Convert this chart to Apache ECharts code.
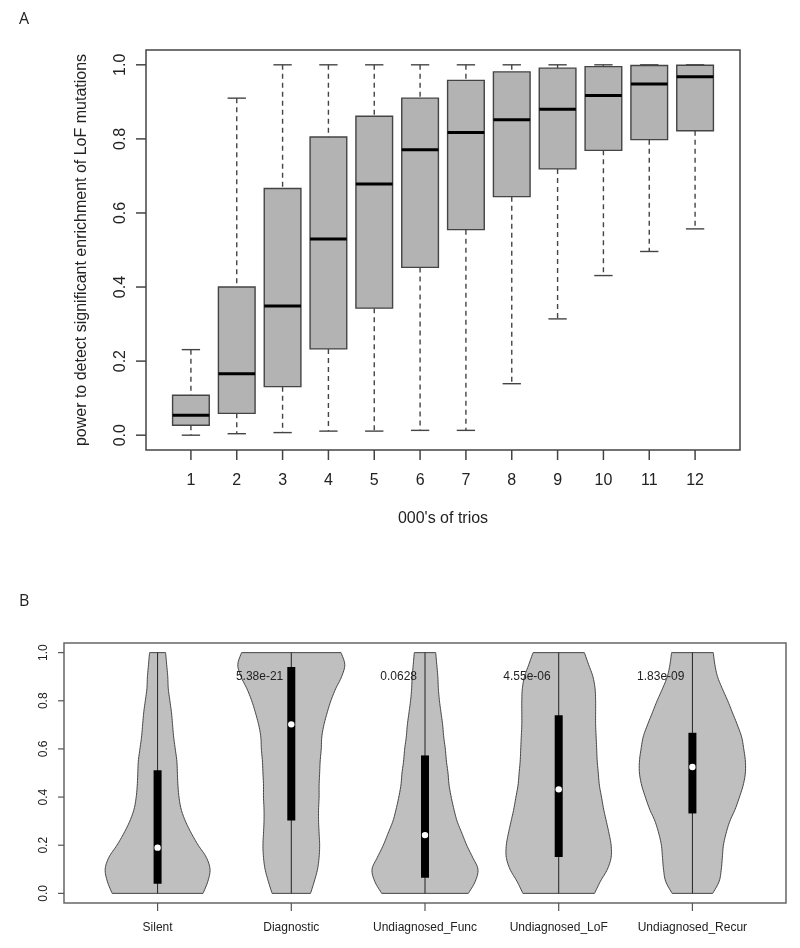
<!DOCTYPE html>
<html><head><meta charset="utf-8">
<script src="https://cdn.jsdelivr.net/npm/echarts@6/dist/echarts.min.js"></script>
<style>html,body{margin:0;padding:0;background:#fff}#c{width:800px;height:948px}</style>
</head><body><div id="c"></div>
<script>
// ---------- Panel A: boxplots ----------
const trioCategories = [1, 2, 3, 4, 5, 6, 7, 8, 9, 10, 11, 12];
const boxLow    = [0.000, 0.004, 0.007, 0.011, 0.011, 0.013, 0.013, 0.139, 0.314, 0.431, 0.496, 0.557];
const boxQ1     = [0.027, 0.059, 0.131, 0.233, 0.343, 0.453, 0.555, 0.644, 0.719, 0.769, 0.798, 0.822];
const boxMedian = [0.054, 0.166, 0.349, 0.530, 0.678, 0.771, 0.817, 0.852, 0.880, 0.917, 0.948, 0.968];
const boxQ3     = [0.108, 0.400, 0.666, 0.805, 0.861, 0.910, 0.958, 0.981, 0.991, 0.995, 0.998, 0.999];
const boxHigh   = [0.231, 0.910, 1.000, 1.000, 1.000, 1.000, 1.000, 1.000, 1.000, 1.000, 1.000, 1.000];
const yTicks = [0, 0.2, 0.4, 0.6, 0.8, 1.0];

// ---------- Panel B: violins ----------
const violinCategories = ['Silent', 'Diagnostic', 'Undiagnosed_Func', 'Undiagnosed_LoF', 'Undiagnosed_Recur'];
const violinPositions = [1, 2, 3, 4, 5];
const densityLevels = [0, 0.05, 0.1, 0.15, 0.2, 0.25, 0.3, 0.35, 0.4, 0.45, 0.5, 0.55, 0.6, 0.65, 0.7, 0.75, 0.8, 0.85, 0.9, 0.95, 1.0];
const densitySilent     = [0.85, 0.94, 0.98, 0.91, 0.76, 0.63, 0.52, 0.44, 0.40, 0.38, 0.37, 0.36, 0.33, 0.30, 0.28, 0.26, 0.23, 0.20, 0.19, 0.17, 0.15];
const densityDiagnostic = [0.36, 0.43, 0.49, 0.52, 0.53, 0.52, 0.51, 0.51, 0.52, 0.52, 0.53, 0.54, 0.56, 0.57, 0.61, 0.67, 0.74, 0.83, 0.94, 1.00, 0.93];
const densityFunc       = [0.81, 0.94, 0.99, 0.89, 0.78, 0.69, 0.60, 0.54, 0.49, 0.45, 0.43, 0.40, 0.38, 0.35, 0.33, 0.30, 0.27, 0.25, 0.24, 0.22, 0.20];
const densityLoF        = [0.67, 0.78, 0.91, 0.98, 0.98, 0.94, 0.89, 0.84, 0.80, 0.76, 0.74, 0.72, 0.71, 0.70, 0.69, 0.69, 0.69, 0.68, 0.64, 0.56, 0.48];
const densityRecur      = [0.38, 0.50, 0.54, 0.56, 0.58, 0.63, 0.70, 0.80, 0.88, 0.95, 0.99, 0.99, 0.96, 0.92, 0.84, 0.75, 0.66, 0.56, 0.47, 0.42, 0.39];
const violinMin    = [0, 0, 0, 0, 0];
const violinMax    = [1, 1, 1, 1, 1];
const violinQ1     = [0.040, 0.303, 0.065, 0.151, 0.332];
const violinMedian = [0.190, 0.702, 0.242, 0.432, 0.525];
const violinQ3     = [0.511, 0.940, 0.573, 0.740, 0.667];
const pValueLabels = ['', '5.38e-21', '0.0628', '4.55e-06', '1.83e-09'];
const pValueY = 0.9;

const densities = [densitySilent, densityDiagnostic, densityFunc, densityLoF, densityRecur];

const FONT = '"Liberation Sans", Arial, sans-serif';
const TXT = '#222';
const BOX_HALF = 0.4, CAP_HALF = 0.2, VIOLIN_HALF = 0.4;
const A_X = [0.02, 12.98], B_X = [0.3, 5.7], Y_EXT = [-0.04, 1.04];

// Catmull-Rom curve through pixel points (drawing only)
function splinePath(pts, n) {
  const out = [];
  for (let i = 0; i < pts.length - 1; i++) {
    const p0 = pts[Math.max(i - 1, 0)], p1 = pts[i], p2 = pts[i + 1], p3 = pts[Math.min(i + 2, pts.length - 1)];
    for (let s = 0; s < n; s++) {
      const t = s / n, t2 = t * t, t3 = t2 * t;
      const f = (a, b, c, d) => 0.5 * (2 * b + (-a + c) * t + (2 * a - 5 * b + 4 * c - d) * t2 + (-a + 3 * b - 3 * c + d) * t3);
      out.push([f(p0[0], p1[0], p2[0], p3[0]), f(p0[1], p1[1], p2[1], p3[1])]);
    }
  }
  out.push(pts[pts.length - 1]);
  return out;
}

function renderBox(params, api) {
  const x = api.value(0);
  const lo = api.value(1), q1 = api.value(2), md = api.value(3), q3 = api.value(4), hi = api.value(5);
  const c = (xx, yy) => api.coord([xx, yy]);
  const tl = c(x - BOX_HALF, q3), br = c(x + BOX_HALF, q1);
  const pMd0 = c(x - BOX_HALF, md), pMd1 = c(x + BOX_HALF, md);
  const pHi = c(x, hi), pQ3 = c(x, q3), pQ1 = c(x, q1), pLo = c(x, lo);
  const capHiL = c(x - CAP_HALF, hi), capHiR = c(x + CAP_HALF, hi);
  const capLoL = c(x - CAP_HALF, lo), capLoR = c(x + CAP_HALF, lo);
  const wStyle = { stroke: '#444', lineWidth: 1.4, lineDash: [5, 4] };
  const cStyle = { stroke: '#444', lineWidth: 1.4 };
  return { type: 'group', children: [
    { type: 'line', shape: { x1: pHi[0], y1: pHi[1], x2: pQ3[0], y2: pQ3[1] }, style: wStyle },
    { type: 'line', shape: { x1: pQ1[0], y1: pQ1[1], x2: pLo[0], y2: pLo[1] }, style: wStyle },
    { type: 'line', shape: { x1: capHiL[0], y1: capHiL[1], x2: capHiR[0], y2: capHiR[1] }, style: cStyle },
    { type: 'line', shape: { x1: capLoL[0], y1: capLoL[1], x2: capLoR[0], y2: capLoR[1] }, style: cStyle },
    { type: 'rect', shape: { x: tl[0], y: tl[1], width: br[0] - tl[0], height: br[1] - tl[1] },
      style: { fill: '#b3b3b3', stroke: '#444', lineWidth: 1.4 } },
    { type: 'line', shape: { x1: pMd0[0], y1: pMd0[1], x2: pMd1[0], y2: pMd1[1] }, style: { stroke: '#000', lineWidth: 3 } }
  ]};
}

function renderViolin(params, api) {
  const i = params.dataIndex;
  const x = api.value(0);
  const dens = densities[i];
  const right = splinePath(densityLevels.map((lv, k) => api.coord([x + dens[k] * VIOLIN_HALF, lv])), 8);
  const left = splinePath(densityLevels.map((lv, k) => api.coord([x - dens[k] * VIOLIN_HALF, lv])), 8).reverse();
  const pts = right.concat(left);
  const pMin = api.coord([x, api.value(1)]), pMax = api.coord([x, api.value(5)]);
  const pQ1 = api.coord([x, api.value(2)]), pQ3 = api.coord([x, api.value(4)]);
  const pMd = api.coord([x, api.value(3)]);
  return { type: 'group', children: [
    { type: 'polygon', shape: { points: pts }, style: { fill: '#bfbfbf', stroke: '#444', lineWidth: 1 } },
    { type: 'line', shape: { x1: pMin[0], y1: pMin[1], x2: pMax[0], y2: pMax[1] }, style: { stroke: '#222', lineWidth: 1 } },
    { type: 'rect', shape: { x: pQ3[0] - 4, y: pQ3[1], width: 8, height: pQ1[1] - pQ3[1] }, style: { fill: '#000' } },
    { type: 'circle', shape: { cx: pMd[0], cy: pMd[1], r: 3.2 }, style: { fill: '#fff' } }
  ]};
}

function renderPValue(params, api) {
  const p = api.coord([api.value(0), api.value(1)]);
  return { type: 'text', x: p[0] - 8, y: p[1], style: {
    text: pValueLabels[params.dataIndex], fill: TXT, font: '12px ' + FONT, align: 'right', verticalAlign: 'middle' } };
}

// axis tick marks at the tick values, placed through the axes' scales
function tickRenderer(dir, len, color, width) {
  return function (params, api) {
    const p = api.coord([api.value(0), api.value(1)]);
    const q = dir === 'down' ? [p[0], p[1] + len] : [p[0] - len, p[1]];
    return { type: 'line', shape: { x1: p[0], y1: p[1], x2: q[0], y2: q[1] }, style: { stroke: color, lineWidth: width } };
  };
}

const chart = echarts.init(document.getElementById('c'), null, { renderer: 'canvas' });
chart.setOption({
  animation: false,
  backgroundColor: '#fff',
  textStyle: { fontFamily: FONT },
  title: [
    { text: 'A', left: 14, top: 6, textStyle: { fontFamily: '"Open Sans", sans-serif', fontSize: 16, fontWeight: 'normal', color: TXT } },
    { text: 'B', left: 14, top: 588, textStyle: { fontFamily: '"Open Sans", sans-serif', fontSize: 16, fontWeight: 'normal', color: TXT } }
  ],
  grid: [
    { left: 146, top: 50, width: 594, height: 400, show: true, borderColor: '#444', borderWidth: 1.5, backgroundColor: 'transparent' },
    { left: 64, top: 643, width: 722, height: 260, show: true, borderColor: '#666', borderWidth: 1.5, backgroundColor: 'transparent' }
  ],
  xAxis: [
    { gridIndex: 0, type: 'value', min: A_X[0], max: A_X[1], splitLine: { show: false },
      axisLine: { show: false, onZero: false }, axisTick: { show: false },
      name: "000's of trios", nameLocation: 'middle', nameGap: 61, nameTextStyle: { fontSize: 16, color: TXT, fontFamily: FONT },
      axisLabel: { customValues: trioCategories, fontSize: 16, color: TXT, margin: 23, fontFamily: FONT } },
    { gridIndex: 1, type: 'value', min: B_X[0], max: B_X[1], splitLine: { show: false },
      axisLine: { show: false, onZero: false }, axisTick: { show: false },
      axisLabel: { customValues: violinPositions, fontSize: 12, color: TXT, margin: 19, fontFamily: FONT,
        formatter: v => violinCategories[Math.round(v) - 1] } }
  ],
  yAxis: [
    { gridIndex: 0, type: 'value', min: Y_EXT[0], max: Y_EXT[1], splitLine: { show: false },
      axisLine: { show: false, onZero: false }, axisTick: { show: false },
      name: 'power to detect significant enrichment of LoF mutations', nameLocation: 'middle', nameGap: 56,
      nameTextStyle: { fontSize: 16, color: TXT, fontFamily: FONT },
      axisLabel: { customValues: yTicks, rotate: 90, fontSize: 16, color: TXT, margin: 17, fontFamily: FONT, formatter: v => v.toFixed(1) } },
    { gridIndex: 1, type: 'value', min: Y_EXT[0], max: Y_EXT[1], splitLine: { show: false },
      axisLine: { show: false, onZero: false }, axisTick: { show: false },
      axisLabel: { customValues: yTicks, rotate: 90, fontSize: 12, color: TXT, margin: 14, fontFamily: FONT, formatter: v => v.toFixed(1) } }
  ],
  series: [
    { type: 'custom', xAxisIndex: 0, yAxisIndex: 0, renderItem: renderBox, encode: { x: 0, y: [1, 2, 3, 4, 5] },
      data: trioCategories.map((c, i) => [c, boxLow[i], boxQ1[i], boxMedian[i], boxQ3[i], boxHigh[i]]) },
    { type: 'custom', xAxisIndex: 1, yAxisIndex: 1, renderItem: renderViolin, encode: { x: 0, y: [1, 2, 3, 4, 5] },
      data: violinPositions.map((c, i) => [c, violinMin[i], violinQ1[i], violinMedian[i], violinQ3[i], violinMax[i]]) },
    { type: 'custom', xAxisIndex: 1, yAxisIndex: 1, renderItem: renderPValue, encode: { x: 0, y: 1 }, z: 5,
      data: violinPositions.map((c) => [c, pValueY]) },
    // tick marks
    { type: 'custom', xAxisIndex: 0, yAxisIndex: 0, silent: true, clip: false, renderItem: tickRenderer('down', 10, '#444', 1.5),
      encode: { x: 0, y: 1 }, data: trioCategories.map(c => [c, Y_EXT[0]]) },
    { type: 'custom', xAxisIndex: 0, yAxisIndex: 0, silent: true, clip: false, renderItem: tickRenderer('left', 10, '#444', 1.5),
      encode: { x: 0, y: 1 }, data: yTicks.map(v => [A_X[0], v]) },
    { type: 'custom', xAxisIndex: 1, yAxisIndex: 1, silent: true, clip: false, renderItem: tickRenderer('down', 8, '#555', 1.2),
      encode: { x: 0, y: 1 }, data: violinPositions.map(c => [c, Y_EXT[0]]) },
    { type: 'custom', xAxisIndex: 1, yAxisIndex: 1, silent: true, clip: false, renderItem: tickRenderer('left', 6, '#555', 1.2),
      encode: { x: 0, y: 1 }, data: yTicks.map(v => [B_X[0], v]) }
  ]
});
</script></body></html>
